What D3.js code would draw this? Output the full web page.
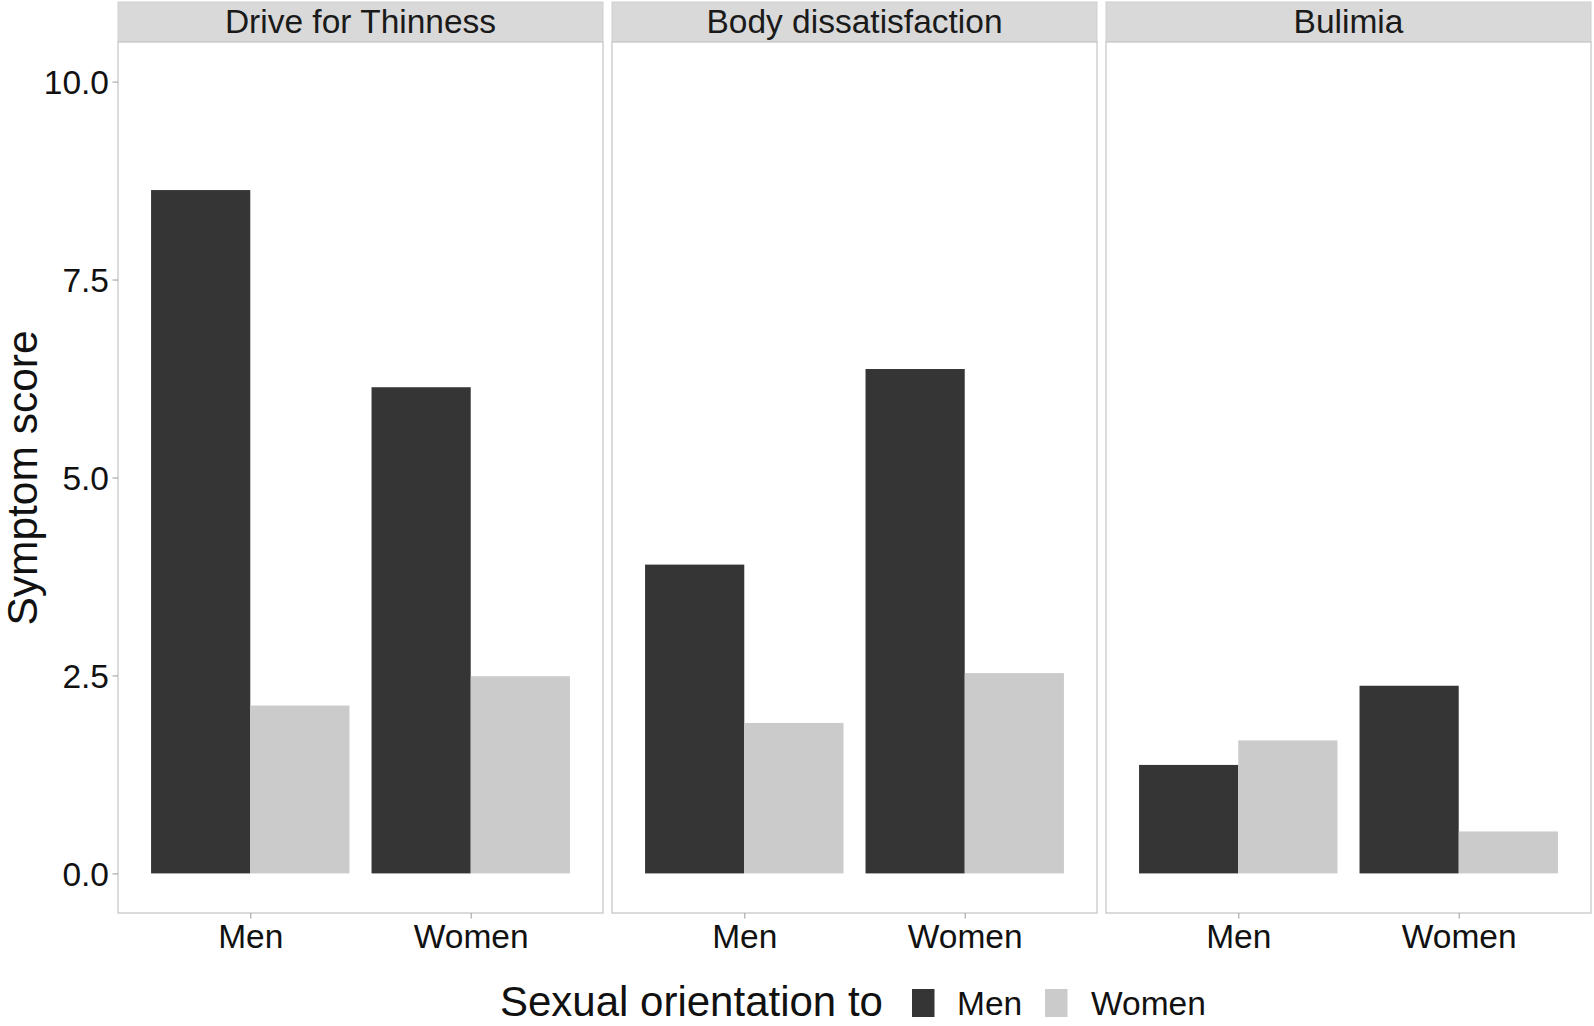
<!DOCTYPE html>
<html><head><meta charset="utf-8">
<script src="https://cdn.jsdelivr.net/npm/d3@7/dist/d3.min.js"></script>
<style>body{margin:0;background:#fff}svg{display:block}</style>
</head><body>
<svg id="chart" width="1594" height="1026"></svg>
<script>
const facets = ["Drive for Thinness", "Body dissatisfaction", "Bulimia"];
const genders = ["Men", "Women"];
const orientations = ["Men", "Women"];
// per facet: [value for gender Men, value for gender Women]
const orientedToMen = [[8.63, 6.14], [3.90, 6.37], [1.37, 2.37]];
const orientedToWomen = [[2.12, 2.49], [1.90, 2.53], [1.68, 0.53]];
const yTicks = [0, 2.5, 5, 7.5, 10];
const yTickLabels = ["0.0", "2.5", "5.0", "7.5", "10.0"];
const colors = ["#353535", "#cbcbcb"];

const svg = d3.select("#chart");
const font = "'Liberation Sans', Arial, sans-serif";
const W = 1594, H = 1026;
const stripTop = 2, panelTop = 42, panelBottom = 913;
const panelLefts = [118, 612, 1106], panelW = 485;

svg.append("rect").attr("width", W).attr("height", H).attr("fill", "#fff");

const y = d3.scaleLinear().domain([-0.5, 10.5]).range([panelBottom, panelTop]);
const color = d3.scaleOrdinal().domain(orientations).range(colors);

facets.forEach((f, i) => {
  const x0 = panelLefts[i];
  const g = svg.append("g");
  const x = d3.scalePoint().domain(genders).range([x0, x0 + panelW]).padding(0.6);
  const step = x.step();
  const xd = d3.scaleBand().domain(orientations).range([-0.45 * step, 0.45 * step]).padding(0);

  // strip
  g.append("rect").attr("x", x0).attr("y", stripTop).attr("width", panelW).attr("height", panelTop - stripTop)
    .attr("fill", "#d9d9d9").attr("stroke", "#cfcfcf").attr("stroke-width", 1);
  g.append("text").attr("x", x0 + panelW / 2).attr("y", 33).attr("text-anchor", "middle")
    .attr("font-family", font).attr("font-size", 33.5).attr("fill", "#1a1a1a").text(f);

  // panel background
  g.append("rect").attr("x", x0).attr("y", panelTop).attr("width", panelW).attr("height", panelBottom - panelTop)
    .attr("fill", "#fff");

  const rows = genders.map((gd, j) => ({ gender: gd, vals: [orientedToMen[i][j], orientedToWomen[i][j]] }));
  rows.forEach(r => {
    r.vals.forEach((v, k) => {
      const o = orientations[k];
      g.append("rect")
        .attr("x", x(r.gender) + xd(o))
        .attr("y", y(v))
        .attr("width", xd.bandwidth())
        .attr("height", y(0) - y(v))
        .attr("fill", color(o));
    });
  });

  // panel border
  g.append("rect").attr("x", x0).attr("y", panelTop).attr("width", panelW).attr("height", panelBottom - panelTop)
    .attr("fill", "none").attr("stroke", "#c8c8c8").attr("stroke-width", 1.3);

  // x axis
  const ax = g.append("g").attr("transform", `translate(0,${panelBottom})`)
    .call(d3.axisBottom(x).tickSize(5.5).tickPadding(4));
  ax.select(".domain").remove();
  ax.selectAll(".tick line").attr("stroke", "#aaaaaa").attr("stroke-width", 1.2);
  ax.selectAll(".tick text").attr("font-family", font).attr("font-size", 33.5).attr("fill", "#111")
    .attr("dy", null).attr("y", 34.5);

  if (i === 0) {
    const ay = g.append("g").attr("transform", `translate(${x0},0)`)
      .call(d3.axisLeft(y).tickValues(yTicks).tickFormat((d, k) => yTickLabels[k]).tickSize(5.5).tickPadding(3.5));
    ay.select(".domain").remove();
    ay.selectAll(".tick line").attr("stroke", "#aaaaaa").attr("stroke-width", 1.2);
    ay.selectAll(".tick text").attr("font-family", font).attr("font-size", 33.5).attr("fill", "#111")
      .attr("dy", "0.36em");
  }
});

// y axis title
svg.append("text").attr("transform", `translate(37,478) rotate(-90)`).attr("text-anchor", "middle")
  .attr("font-family", font).attr("font-size", 42.5).attr("fill", "#111").text("Symptom score");

// legend
const leg = svg.append("g");
leg.append("text").attr("x", 500).attr("y", 1016).attr("font-family", font).attr("font-size", 42)
  .attr("fill", "#111").text("Sexual orientation to");
const keyX = [912, 1045], labX = [957, 1091];
orientations.forEach((o, k) => {
  leg.append("rect").attr("x", keyX[k]).attr("y", 989).attr("width", 22.5).attr("height", 28).attr("fill", color(o));
  leg.append("text").attr("x", labX[k]).attr("y", 1015).attr("font-family", font).attr("font-size", 33.5)
    .attr("fill", "#111").text(o);
});
</script>
</body></html>
